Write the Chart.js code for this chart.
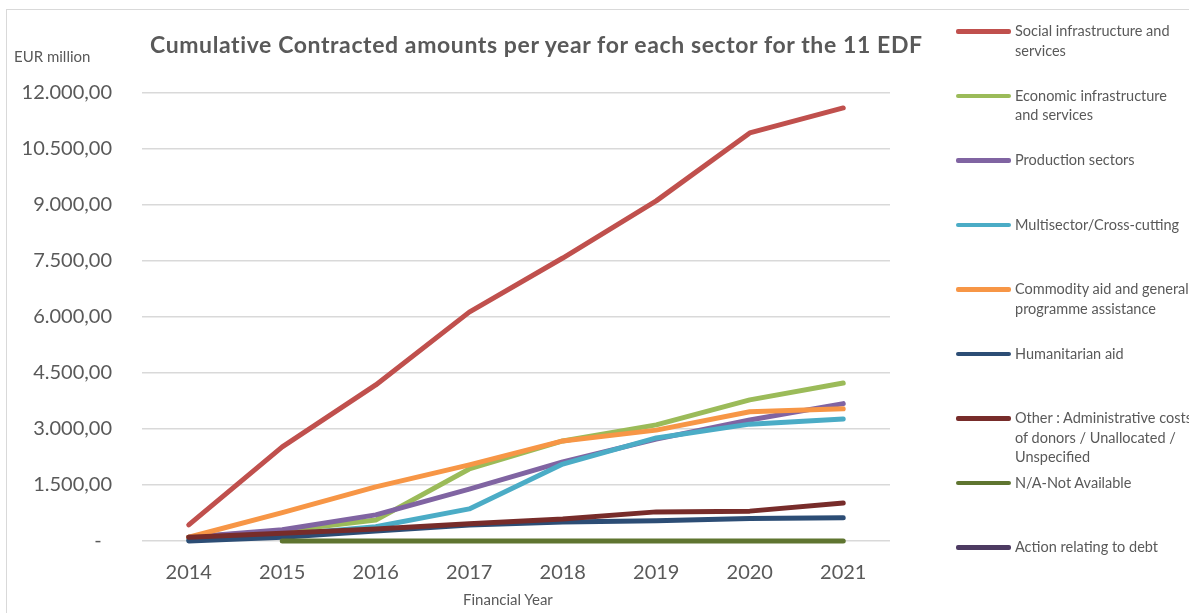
<!DOCTYPE html>
<html>
<head>
<meta charset="utf-8">
<script src="https://cdn.jsdelivr.net/npm/chart.js@4/dist/chart.umd.min.js"></script>
<style>
  html, body { margin: 0; padding: 0; background: #fff; overflow: hidden; }
  body { width: 1189px; height: 613px; position: relative; font-family: Lato, "Open Sans", sans-serif; color: #595959; }
  #frame { position: absolute; left: 6px; top: 9px; width: 1400px; height: 800px; border: 1px solid #d9d9d9; box-sizing: border-box; }
  #wrap { position: absolute; left: 0; top: 0; width: 1189px; height: 613px; }
  .txt { position: absolute; white-space: nowrap; }
  #title { left: 150px; top: 30px; font-size: 23px; font-weight: bold; letter-spacing: 0.6px; }
  #unit { left: 14px; top: 47px; font-size: 15px; }
  #xtitle { left: 463px; top: 590px; font-size: 15px; }
  #legend { position: absolute; left: 0; top: 0; }
  .item { position: absolute; left: 956px; width: 260px; }
  .item .sw { position: absolute; left: 0; top: 8px; width: 55px; height: 4.5px; border-radius: 2px; }
  .item .lb { position: absolute; left: 59px; font-size: 14.5px; line-height: 19.5px; white-space: nowrap; }
</style>
</head>
<body>
<div id="frame"></div>
<div id="wrap"><canvas id="chart" width="1189" height="613"></canvas></div>
<div class="txt" id="title">Cumulative Contracted amounts per year for each sector for the 11 EDF</div>
<div class="txt" id="unit">EUR million</div>
<div class="txt" id="xtitle">Financial Year</div>
<div id="legend"></div>
<script>
const years = ['2014', '2015', '2016', '2017', '2018', '2019', '2020', '2021'];
const yTicks = [0, 1500, 3000, 4500, 6000, 7500, 9000, 10500, 12000];

const social       = [430, 2520, 4180, 6130, 7580, 9110, 10930, 11600];
const economic     = [100, 270, 560, 1930, 2680, 3110, 3780, 4230];
const production   = [100, 300, 700, 1390, 2120, 2730, 3240, 3680];
const multisector  = [30, 160, 380, 860, 2060, 2760, 3130, 3270];
const commodity    = [100, 760, 1450, 2040, 2680, 2970, 3460, 3540];
const humanitarian = [0, 100, 270, 430, 510, 540, 600, 620];
const other        = [100, 210, 320, 460, 590, 780, 800, 1020];
const notAvailable = [null, 0, 0, 0, 0, 0, 0, 0];
const debt         = [null, null, null, null, null, null, null, null];

const series = [
  { label: 'Social infrastructure and services', lines: ['Social infrastructure and', 'services'], data: social, color: '#c0504d' },
  { label: 'Economic infrastructure and services', lines: ['Economic infrastructure', 'and services'], data: economic, color: '#9bbb59' },
  { label: 'Production sectors', lines: ['Production sectors'], data: production, color: '#8064a2' },
  { label: 'Multisector/Cross-cutting', lines: ['Multisector/Cross-cutting'], data: multisector, color: '#4bacc6' },
  { label: 'Commodity aid and general programme assistance', lines: ['Commodity aid and general', 'programme assistance'], data: commodity, color: '#f79646' },
  { label: 'Humanitarian aid', lines: ['Humanitarian aid'], data: humanitarian, color: '#2c4d75' },
  { label: 'Other : Administrative costs of donors / Unallocated / Unspecified', lines: ['Other : Administrative costs', 'of donors / Unallocated /', 'Unspecified'], data: other, color: '#772c2a' },
  { label: 'N/A-Not Available', lines: ['N/A-Not Available'], data: notAvailable, color: '#5f7530' },
  { label: 'Action relating to debt', lines: ['Action relating to debt'], data: debt, color: '#4d3b62' }
];

function fmt(v) {
  if (v === 0) return '-  ';
  const s = String(Math.round(v)).replace(/\B(?=(\d{3})+(?!\d))/g, '.');
  return s + ',00';
}

// later series drawn on top, like the original
const datasets = series.map((s, i) => ({
  label: s.label,
  data: s.data,
  borderColor: s.color,
  backgroundColor: s.color,
  borderWidth: 5,
  borderCapStyle: 'round',
  borderJoinStyle: 'round',
  pointRadius: 0,
  tension: 0,
  fill: false,
  clip: false,
  order: series.length - i
}));

const ctx = document.getElementById('chart').getContext('2d');
new Chart(ctx, {
  type: 'line',
  data: { labels: years, datasets },
  options: {
    responsive: false,
    animation: false,
    layout: { padding: { top: 93, right: 299, left: 0, bottom: 0 } },
    plugins: { legend: { display: false }, tooltip: { enabled: false } },
    scales: {
      x: {
        offset: true,
        afterFit: (scale) => { scale.height = 72; },
        grid: { display: false, drawTicks: false },
        border: { display: false },
        ticks: {
          color: '#595959',
          font: { family: 'Lato', size: 20 },
          padding: 20,
          autoSkip: false,
          maxRotation: 0
        }
      },
      y: {
        min: 0,
        max: 12000,
        afterBuildTicks: (scale) => { scale.ticks = yTicks.map(v => ({ value: v })); },
        afterFit: (scale) => { scale.width = 142; },
        grid: { color: '#d9d9d9', lineWidth: 1.5, drawTicks: false },
        border: { display: false },
        ticks: {
          callback: (v) => fmt(v),
          color: '#595959',
          font: { family: 'Lato', size: 20 },
          padding: 30
        }
      }
    }
  }
});

const legend = document.getElementById('legend');
series.forEach((s, i) => {
  const item = document.createElement('div');
  item.className = 'item';
  item.style.top = (31 + i * 64.5 - 10) + 'px';
  item.innerHTML = '<div class="sw" style="background:' + s.color + '"></div><div class="lb">' + s.lines.join('<br>') + '</div>';
  legend.appendChild(item);
});
</script>
</body>
</html>
